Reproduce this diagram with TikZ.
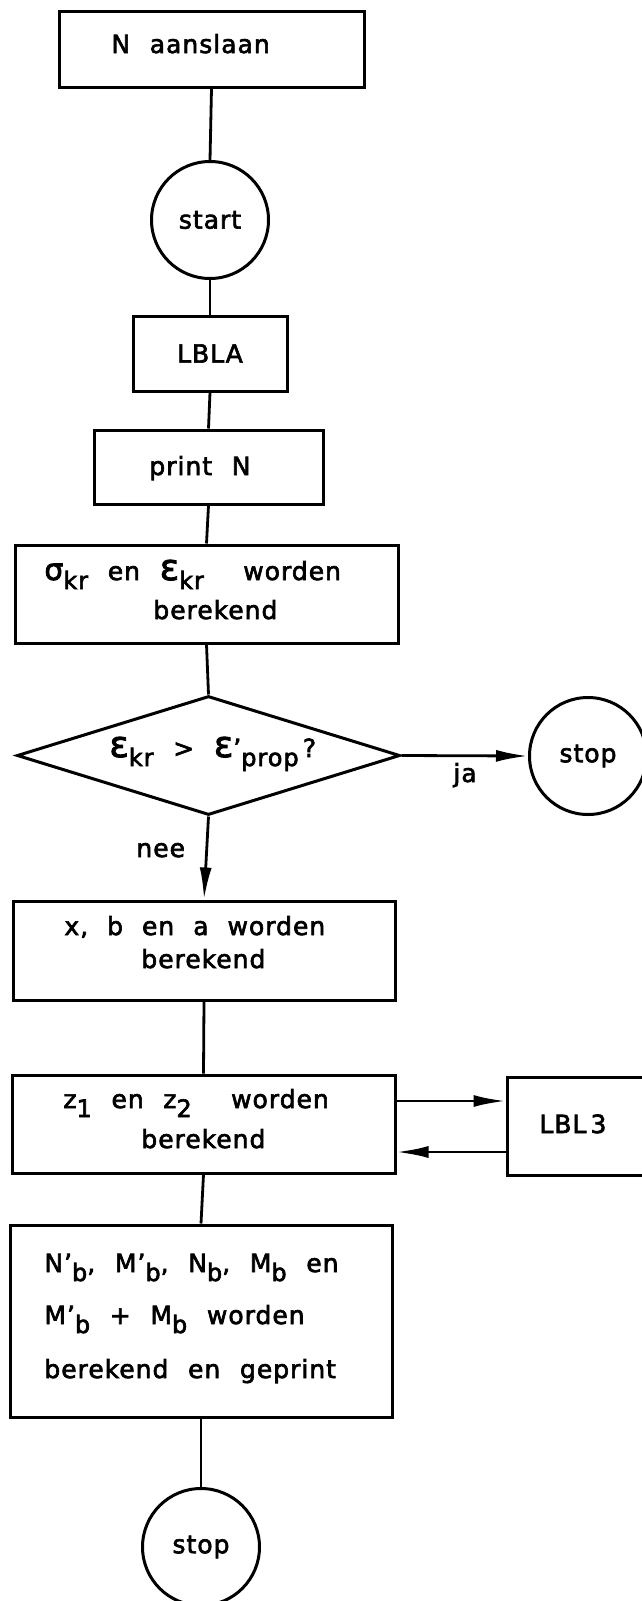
\documentclass[tikz,border=0pt]{standalone}
\usepackage{fontspec}
\setmainfont{DejaVu Sans}[LetterSpace=4.0,WordSpace=2.2,FakeBold=2.5]
\usetikzlibrary{arrows.meta,shapes.geometric}
\newcommand{\lowsub}[1]{\raisebox{-9pt}{\fontsize{24}{24}\selectfont #1}}
\newcommand{\bigeps}{{\fontsize{36}{36}\selectfont ε}}
\newcommand{\bigsig}{{\fontsize{30}{30}\selectfont σ}}
\begin{document}
\begin{tikzpicture}[x=1pt,y=-1pt,line width=2.8pt,
  box/.style={draw,rectangle,line width=3pt,inner sep=0pt},
  circ/.style={draw,circle,line width=3pt,minimum size=117pt,inner sep=0pt,font=\fontsize{25}{30}\selectfont},
  txt/.style={anchor=base west,inner sep=0pt,font=\fontsize{25}{30}\selectfont},
  arr/.style={-{Latex[length=32pt,width=12pt]}}]
\useasboundingbox (0,0) rectangle (641,1601);
% boxes
\node[box,minimum width=305pt,minimum height=76pt] (b1) at (211.5,49) {};
\node[txt] (t1) at (110,53) {N aanslaan};
\node[circ] (start) at (210,220) {start};
\node[box,minimum width=154pt,minimum height=75pt,font=\fontsize{25}{30}\selectfont] (lbla) at (210,353.5) {LBLA};
\node[box,minimum width=229pt,minimum height=74pt] (pn) at (208.5,467) {};
\node[txt] (tpn) at (148,475) {print N};
\node[box,minimum width=383pt,minimum height=98pt] (sg) at (206.5,594) {};
\node[txt] (tsg1) at (43,580) {\bigsig\lowsub{kr} en \bigeps\lowsub{kr}\ \ worden};
\node[txt] (tsg2) at (152,619) {berekend};
\node[draw,diamond,aspect=3.2,minimum width=383pt,minimum height=119pt,inner sep=0pt,line width=3pt] (dm) at (208.5,755.5) {};
\node[txt] (tdm) at (108,757) {\bigeps\lowsub{kr} > \bigeps’\lowsub{prop}\,?};
\node[circ] (stop1) at (588,756) {stop};
\node[txt] (ja) at (452,782) {ja};
\node[txt] (nee) at (135,857) {nee};
\node[box,minimum width=382pt,minimum height=99pt] (xb) at (204,950.5) {};
\node[txt] (txb1) at (63,935) {\spaceskip=19pt\relax x, b en a worden};
\node[txt] (txb2) at (140,968) {berekend};
\node[box,minimum width=383pt,minimum height=98pt] (zb) at (203.5,1124) {};
\node[txt] (tzb1) at (62,1108) {z\lowsub{1} en z\lowsub{2}\ \ worden};
\node[txt] (tzb2) at (140,1148) {berekend};
\node[box,minimum width=138pt,minimum height=98pt] (l3) at (576,1126) {};
\node[txt] (tl3) at (538,1133) {LBL\,3};
\node[box,minimum width=382pt,minimum height=192pt] (nb) at (201,1321) {};
\node[txt] (tnb1) at (43,1272) {N’\lowsub{b}, M’\lowsub{b}, N\lowsub{b}, M\lowsub{b} en};
\node[txt] (tnb2) at (43,1324) {M’\lowsub{b} + M\lowsub{b} worden};
\node[txt] (tnb3) at (43,1378) {berekend en geprint};
\node[circ] (stop2) at (201,1547) {stop};
% connectors
\draw (b1.south) -- (start.north);
\draw (start.south) -- (lbla.north);
\draw (lbla.south) -- (pn.north);
\draw (pn.south) -- (sg.north);
\draw (sg.south) -- (dm.north);
\draw[arr] (dm.east) -- (stop1.west);
\draw[arr] (dm.south) -- (xb.north);
\draw (xb.south) -- (zb.north);
\coordinate (ra) at (450,1101);
\coordinate (la) at (450,1152);
\draw[arr] (zb.east |- ra) -- (l3.west |- ra);
\draw[arr] (l3.west |- la) -- (zb.east |- la);
\draw (zb.south) -- (nb.north);
\draw (nb.south) -- (stop2.north);
\end{tikzpicture}
\end{document}
